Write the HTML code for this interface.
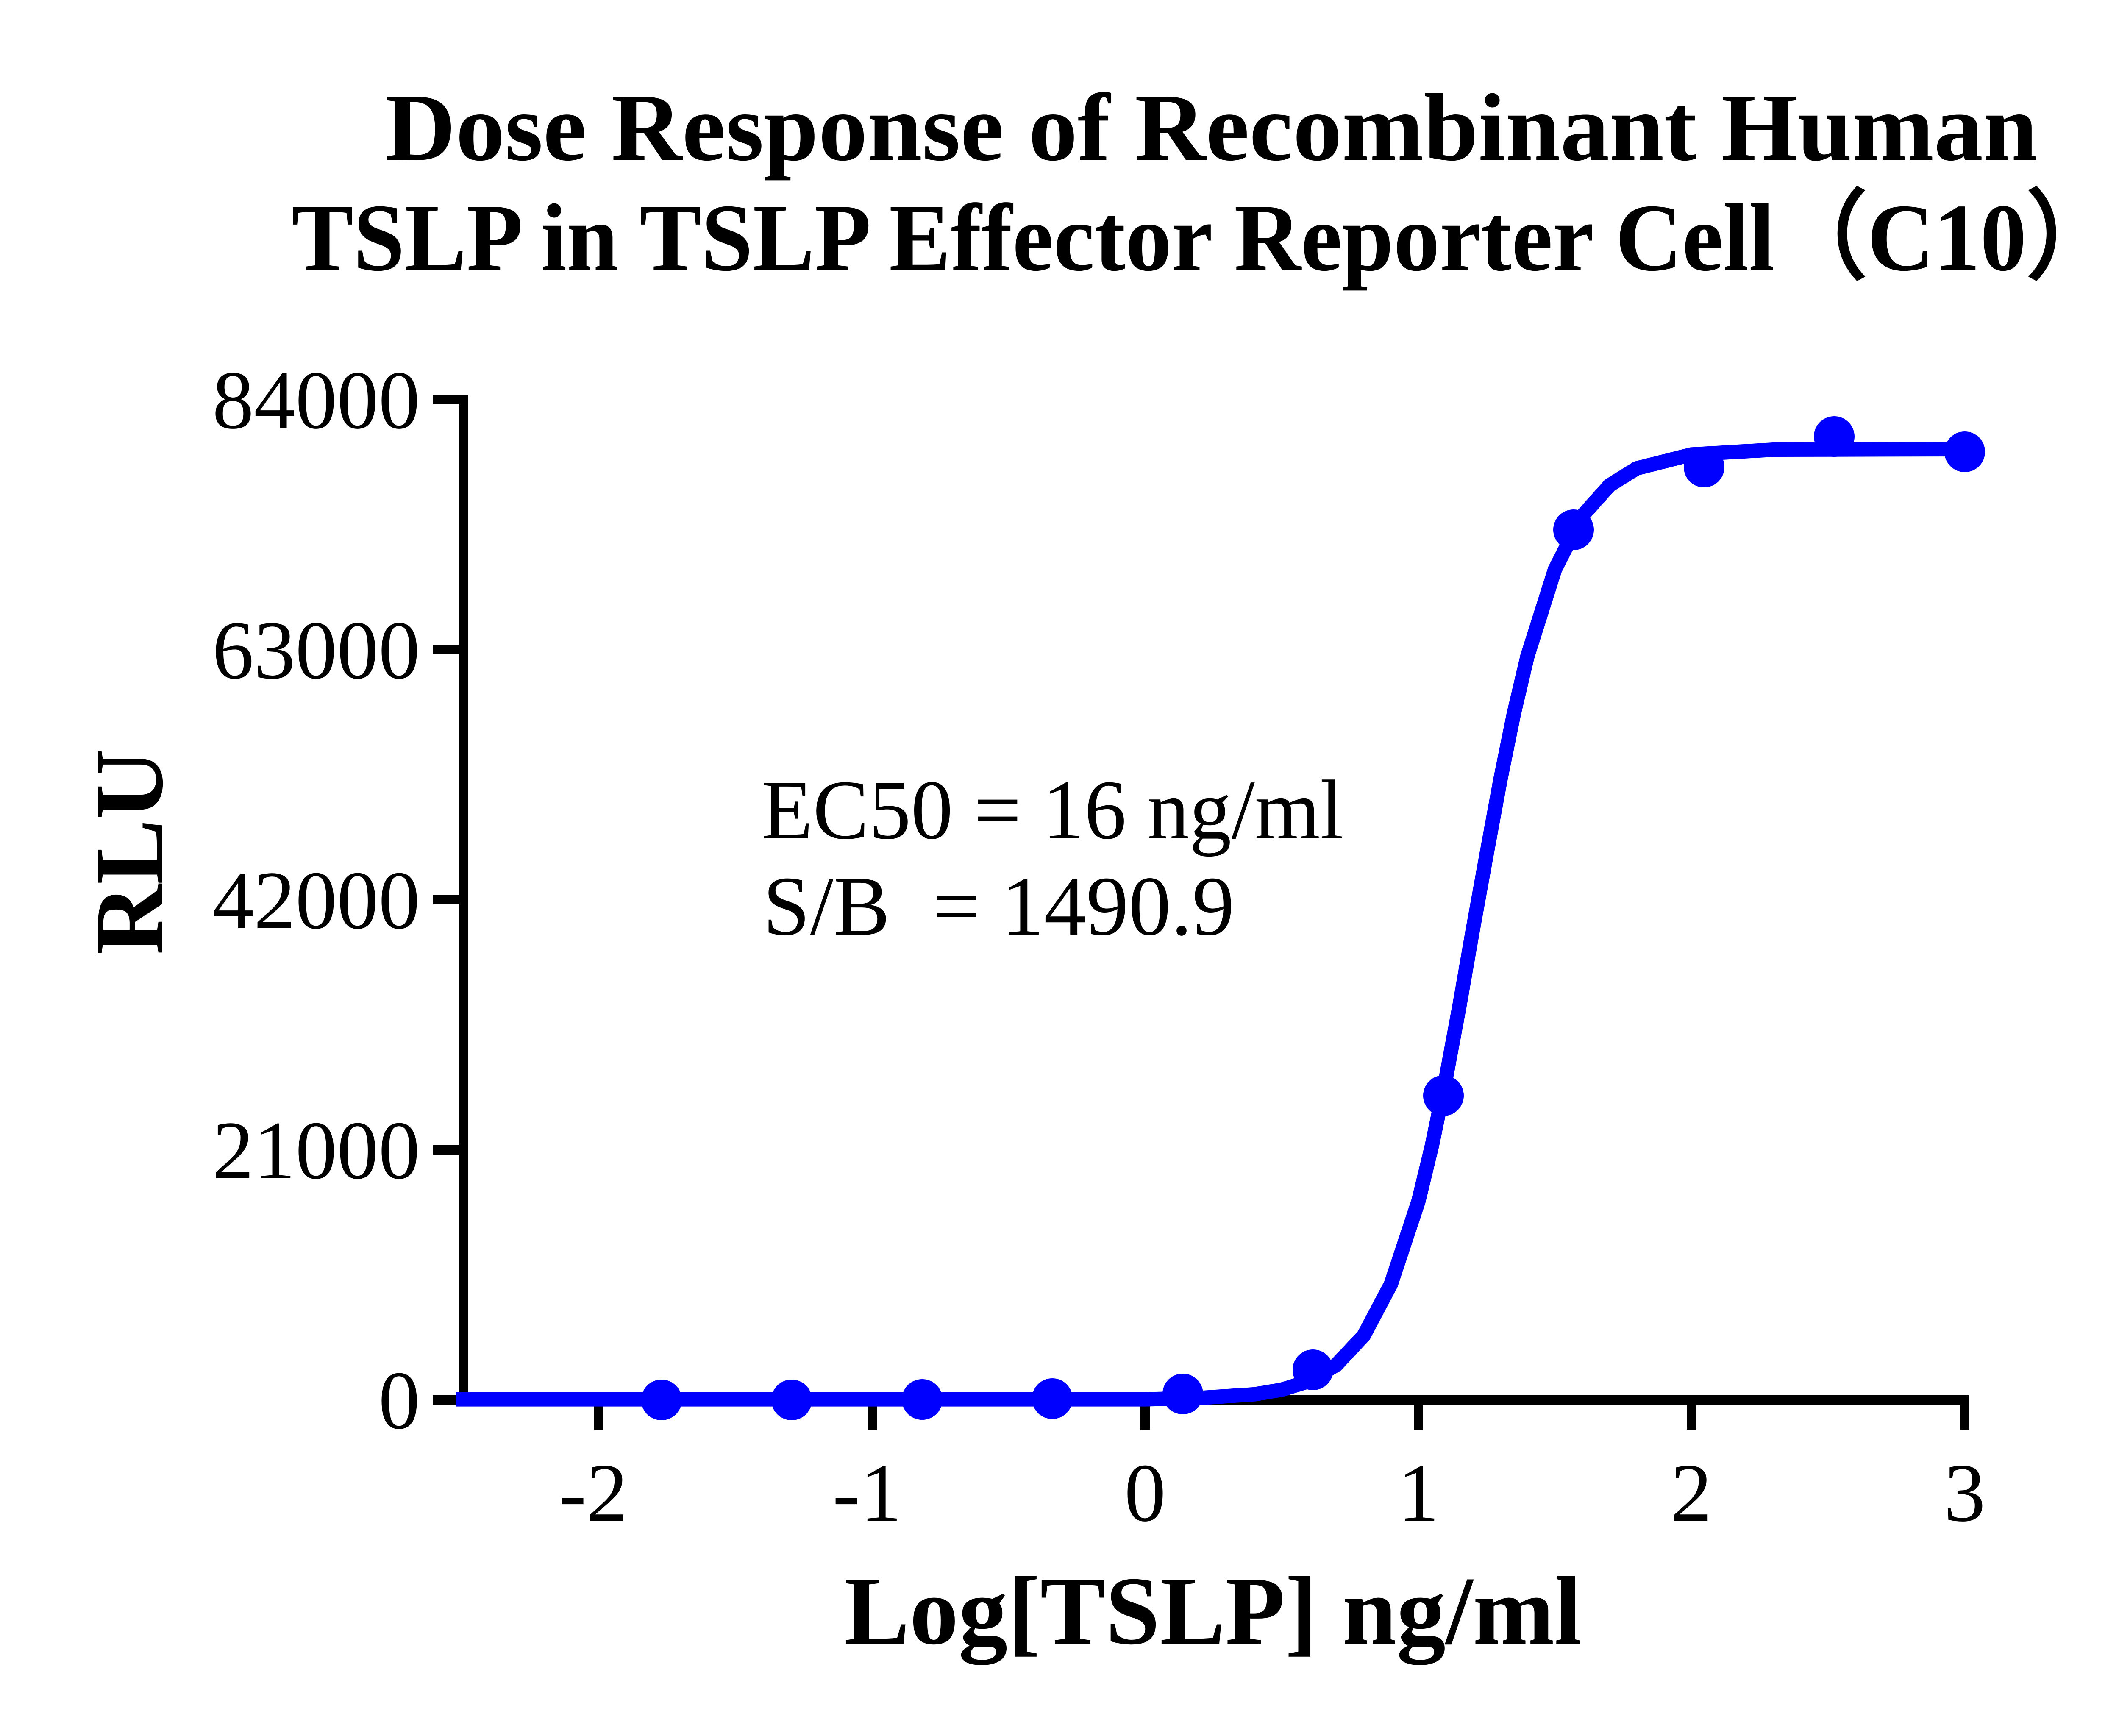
<!DOCTYPE html>
<html><head><meta charset="utf-8"><style>html,body{margin:0;padding:0;background:#fff}svg{display:block}</style></head>
<body>
<svg width="5224" height="4096" viewBox="0 0 5224 4096" xmlns="http://www.w3.org/2000/svg">
<rect width="5224" height="4096" fill="#fff"/>
<g font-family="Liberation Serif, serif" fill="#000">
<text x="908" y="377" font-size="227" font-weight="bold" textLength="3900" lengthAdjust="spacingAndGlyphs">Dose Response of Recombinant Human</text>
<text x="688" y="637" font-size="227" font-weight="bold" textLength="4312" lengthAdjust="spacingAndGlyphs">TSLP in TSLP Effector Reporter Cell（C10）</text>
<text transform="translate(382,2010) rotate(-90)" text-anchor="middle" font-size="230" font-weight="bold">RLU</text>
<text x="2862" y="3878" text-anchor="middle" font-size="230" font-weight="bold" textLength="1740" lengthAdjust="spacingAndGlyphs">Log[TSLP] ng/ml</text>
<g font-size="196" text-anchor="end">
<text x="991" y="1010">84000</text>
<text x="991" y="1600">63000</text>
<text x="991" y="2190">42000</text>
<text x="991" y="2780">21000</text>
<text x="991" y="3370">0</text>
</g>
<g font-size="196" text-anchor="middle">
<text x="1400" y="3588">-2</text>
<text x="2046" y="3588">-1</text>
<text x="2702" y="3588">0</text>
<text x="3347" y="3588">1</text>
<text x="3991" y="3588">2</text>
<text x="4636" y="3588">3</text>
</g>
<text x="1797" y="1978" font-size="200" textLength="1373" lengthAdjust="spacingAndGlyphs">EC50 = 16 ng/ml</text>
<text x="1800" y="2205" font-size="200" xml:space="preserve">S/B  = 1490.9</text>
</g>
<g stroke="#000" stroke-width="22" fill="none">
<line x1="1094" y1="932" x2="1094" y2="3315"/>
<line x1="1022" y1="3303" x2="4647" y2="3303" stroke-width="24"/>
<line x1="1022" y1="943" x2="1094" y2="943"/>
<line x1="1022" y1="1533" x2="1094" y2="1533"/>
<line x1="1022" y1="2123" x2="1094" y2="2123"/>
<line x1="1022" y1="2713" x2="1094" y2="2713"/>
<line x1="1413" y1="3303" x2="1413" y2="3375"/>
<line x1="2059" y1="3303" x2="2059" y2="3375"/>
<line x1="2702" y1="3303" x2="2702" y2="3375"/>
<line x1="3347" y1="3303" x2="3347" y2="3375"/>
<line x1="3991" y1="3303" x2="3991" y2="3375"/>
<line x1="4636" y1="3303" x2="4636" y2="3375"/>
</g>
<polyline fill="none" stroke="#0000ff" stroke-width="34" stroke-linejoin="round"
points="1076,3301.6 2702,3301.6 2831,3298.4 2960,3289.8 3024,3279 3089,3258.7 3153,3220.5 3218,3151.1 3282,3029.9 3347,2834 3379,2702 3411,2547.7 3443,2377.4 3475,2195.2 3508,2014 3540,1841.2 3572,1684.2 3604,1548.8 3669,1343.7 3733,1217.8 3798,1145 3862,1105.1 3991,1072.3 4184,1061 4636,1060"/>
<g fill="#0000ff">
<circle cx="1561" cy="3303" r="48"/>
<circle cx="1868" cy="3303" r="48"/>
<circle cx="2176" cy="3302" r="48"/>
<circle cx="2483" cy="3300" r="48"/>
<circle cx="2791" cy="3289" r="48"/>
<circle cx="3098" cy="3232" r="48"/>
<circle cx="3406" cy="2585" r="48"/>
<circle cx="3713" cy="1250" r="48"/>
<circle cx="4021" cy="1102" r="48"/>
<circle cx="4328" cy="1030" r="48"/>
<circle cx="4636" cy="1066" r="48"/>
</g>
</svg>
</body></html>
